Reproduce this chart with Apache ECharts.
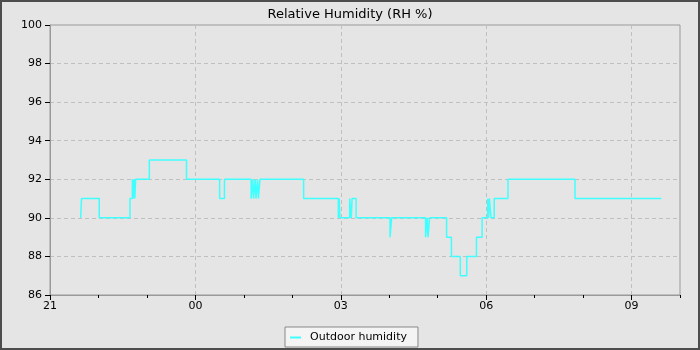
<!DOCTYPE html>
<html>
<head>
<meta charset="utf-8">
<script src="https://cdn.jsdelivr.net/npm/echarts@6/dist/echarts.min.js"></script>
<style>
  html, body { margin: 0; padding: 0; background: #e5e5e5; }
  #chart { width: 700px; height: 350px; }
</style>
</head>
<body>
<div id="chart"></div>
<script>
// sample times (clock) and humidity readings, from 21:00 to 10:00 next morning
var times = ['21:38','21:39','22:01','22:39','22:42','22:43','22:44','22:45','22:46','23:03','23:49',
  '00:30','00:36','01:09','01:11','01:12','01:14','01:15','01:17','01:18','01:20','02:14','02:57',
  '02:58','02:59','03:11','03:13','03:14','03:19','04:01','04:03','04:45','04:47','04:48','04:50',
  '05:11','05:17','05:28','05:36','05:48','05:55','06:02','06:03','06:04','06:06','06:10','06:27',
  '07:50','09:37']
var humidity = [90,91,90,91,92,91,92,91,92,93,92,
  91,92,91,92,91,92,91,92,91,92,91,90,
  91,90,91,90,91,90,89,90,89,90,89,90,
  89,88,87,88,89,90,91,90,91,90,91,92,
  91,91]
var hourLabels = ['21','00','03','06','09']
var yTicks = [86,88,90,92,94,96,98,100]

// hours after 21:00
function toHours(t){
  var p = t.split(':')
  var h = +p[0] + (+p[1]) / 60
  return h >= 21 ? h - 21 : h + 3
}
var seriesData = times.map(function(t, i){ return [toHours(t), humidity[i]] })

var font = 'DejaVu Sans'
var chart = echarts.init(document.getElementById('chart'))
chart.setOption({
  animation: false,
  backgroundColor: '#e5e5e5',
  title: {
    text: 'Relative Humidity (RH %)',
    left: 'center',
    top: 3,
    textStyle: { fontFamily: font, fontSize: 13, fontWeight: 'normal', color: '#000' }
  },
  graphic: [{
    type: 'rect',
    shape: { x: 1, y: 1, width: 698, height: 348 },
    style: { fill: null, stroke: '#4d4d4d', lineWidth: 2 },
    silent: true
  }],
  legend: {
    data: ['Outdoor humidity'],
    left: 285,
    top: 327,
    icon: 'rect',
    itemWidth: 11,
    itemHeight: 2,
    padding: [5, 11, 4, 5],
    backgroundColor: '#f4f4f4',
    borderColor: '#888',
    borderWidth: 1,
    borderRadius: 0,
    textStyle: { fontFamily: font, fontSize: 11, color: '#000', padding: [0, 0, 0, 4] }
  },
  grid: {
    left: 50, right: 20, top: 25, bottom: 55,
    show: true, borderColor: '#999', borderWidth: 1, backgroundColor: 'transparent'
  },
  xAxis: [{
    type: 'value',
    min: 0, max: 13, interval: 3,
    axisLine: { lineStyle: { color: '#999' } },
    axisTick: { length: 5, lineStyle: { color: '#000' }, customValues: [0,3,6,9,12] },
    axisLabel: {
      fontFamily: font, fontSize: 11, color: '#000', margin: 6,
      customValues: [0,3,6,9,12],
      formatter: function(v){ return hourLabels[Math.round(v / 3)] || '' }
    },
    splitLine: { show: true, lineStyle: { color: '#c0c0c0', type: [4, 3] } }
  }, {
    type: 'value',
    position: 'bottom',
    min: 0, max: 13, interval: 1,
    axisLine: { show: false },
    axisTick: { length: 3, lineStyle: { color: '#000' } },
    axisLabel: { show: false },
    splitLine: { show: false }
  }],
  yAxis: {
    type: 'value',
    min: yTicks[0], max: yTicks[yTicks.length - 1], interval: 2,
    axisLine: { show: true, lineStyle: { color: '#999' } },
    axisTick: { show: true, length: 5, lineStyle: { color: '#000' } },
    axisLabel: { fontFamily: font, fontSize: 11, color: '#000', margin: 8 },
    splitLine: { show: true, lineStyle: { color: '#c0c0c0', type: [4, 3] } }
  },
  series: [{
    name: 'Outdoor humidity',
    type: 'line',
    step: 'end',
    showSymbol: false,
    symbol: 'none',
    data: seriesData,
    itemStyle: { color: '#40ffff' },
    lineStyle: { color: '#40ffff', width: 1.5 }
  }]
})
</script>
</body>
</html>
